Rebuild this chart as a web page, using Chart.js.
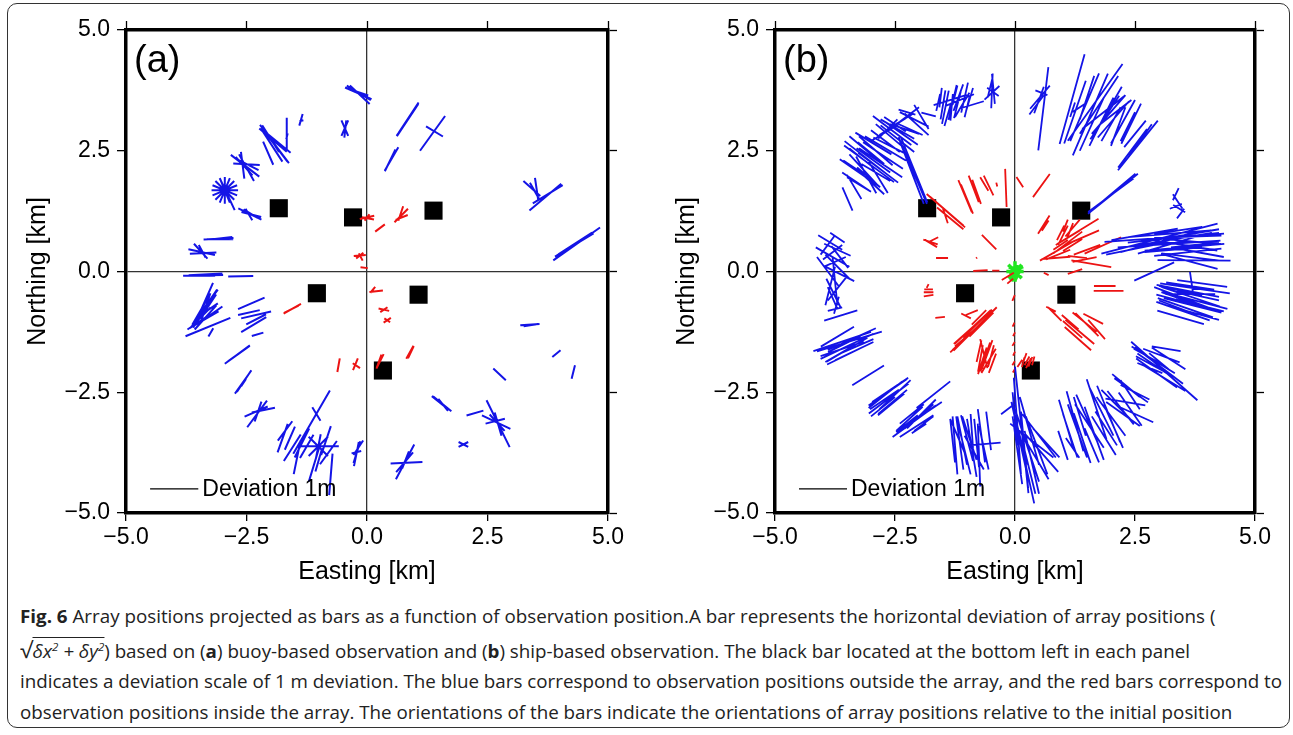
<!DOCTYPE html>
<html><head><meta charset="utf-8">
<script src="https://cdn.jsdelivr.net/npm/chart.js@4.4.1/dist/chart.umd.min.js"></script>
<style>
html,body{margin:0;padding:0;background:#fff;width:1293px;height:735px;overflow:hidden;}
#frame{position:absolute;left:7px;top:3px;width:1281px;height:723px;border:1.5px solid #333;border-radius:10px;}
.panel{position:absolute;top:0;width:640px;height:600px;}
#cap{position:absolute;left:20px;top:600px;font-family:'Open Sans';font-size:18px;color:#222;transform-origin:0 0;white-space:nowrap;}
.ln{position:absolute;left:0;white-space:nowrap;line-height:24px;}
.ov{border-top:1px solid #222;padding-top:1px;font-style:italic;}
sup{font-size:11px;line-height:0;vertical-align:7px;}
</style></head><body>
<div id="frame"></div>
<div class="panel" style="left:0"><canvas id="ca" width="640" height="600"></canvas></div>
<div class="panel" style="left:649px"><canvas id="cb" width="640" height="600"></canvas></div>
<div id="cap">
<div class="ln" style="top:4px"><b>Fig. 6</b> Array positions projected as bars as a function of observation position.A bar represents the horizontal deviation of array positions (</div>
<div class="ln" style="top:37px"><span style="font-size:22px">√</span><span class="ov">δx<sup>2</sup> + δy<sup>2</sup></span>) based on (<b>a</b>) buoy-based observation and (<b>b</b>) ship-based observation. The black bar located at the bottom left in each panel</div>
<div class="ln" id="l3" style="top:69px">indicates a deviation scale of 1 m deviation. The blue bars correspond to observation positions outside the array, and the red bars correspond to</div>
<div class="ln" style="top:100px">observation positions inside the array. The orientations of the bars indicate the orientations of array positions relative to the initial position</div>
</div>
<script>
// ---------- DATA ----------
const tickValues = [-5, -2.5, 0, 2.5, 5];
const tickLabels = ['\u22125.0', '\u22122.5', '0.0', '2.5', '5.0'];
// array (transponder) positions [km]
const squareEast  = [-1.83, -0.29, 1.38, -1.04, 1.07, 0.33];
const squareNorth = [ 1.31,  1.12, 1.26, -0.45, -0.48, -2.05];
// 1 m deviation is drawn as 1 km on the map
const kmPerMetre = 1.0;
const legendDeviation = 1; // m
// bars: [obsEast km, obsNorth km, devEast m, devNorth m]
const buoyOutside = [
 [-0.18,3.69,0.55,-0.24],[-0.15,3.66,0.41,-0.38],[-0.17,3.70,0.50,-0.30],[-0.20,3.72,0.45,-0.15],
 [-0.46,2.97,0.14,-0.32],[-0.46,2.97,-0.14,-0.32],[-0.45,2.95,0.04,0.36],
 [-1.37,3.14,0.07,0.24],[-1.36,3.12,0.08,0.02],
 [-1.67,2.86,0.01,0.65],[-1.66,2.80,0.03,0.12],
 [-1.92,2.64,0.60,-0.79],[-1.98,2.62,0.45,-0.69],[-1.88,2.70,0.59,-0.48],[-2.05,2.45,0.21,-0.48],[-1.95,2.72,0.57,-0.48],[-1.90,2.60,0.50,-0.65],[-2.00,2.75,0.35,-0.55],
 [-2.53,2.19,0.59,-0.45],[-2.50,2.15,0.31,-0.55],[-2.50,2.22,0.55,-0.03],[-2.55,2.18,0.35,-0.38],[-2.58,2.20,0.07,-0.55],[-2.45,2.20,0.40,-0.20],
 [-2.95,1.68,0.55,0],[-2.95,1.68,0.51,0.21],[-2.95,1.68,0.39,0.39],[-2.95,1.68,0.21,0.51],[-2.95,1.68,0,0.55],[-2.95,1.68,-0.21,0.51],[-2.95,1.68,-0.39,0.39],[-2.95,1.68,-0.51,0.21],[-2.90,1.60,0.31,-0.66],
 [-2.43,1.19,0.48,-0.23],[-2.40,1.18,0.41,-0.10],[-2.45,1.18,0.14,-0.24],[-2.42,1.20,0.28,-0.17],
 [-3.08,0.68,0.62,0.03],[-3.05,0.67,0.55,0.0],[-3.02,0.69,0.45,0.05],
 [-3.43,0.40,0.55,-0.12],[-3.40,0.38,0.55,0.03],[-3.45,0.42,0.28,-0.31],[-3.42,0.42,0.14,-0.26],
 [-3.40,-0.08,0.83,0.02],[-3.35,-0.06,0.70,0.04],[-3.45,-0.09,0.60,0.0],[-2.62,-0.10,0.52,0.01],
 [-3.30,-1.15,0.93,0.38],[-3.40,-0.70,0.41,0.93],[-3.30,-0.65,0.41,0.55],[-3.40,-0.85,0.41,0.55],[-3.30,-0.80,0.41,0.28],[-3.45,-0.95,0.41,0.41],[-3.30,-0.65,0.38,0.55],[-3.25,-0.90,0.50,0.35],[-3.50,-1.05,0.45,0.30],[-3.35,-0.75,0.20,0.60],[-3.24,-1.26,0.10,0.17],
 [-3.35,-0.95,0.45,0.50],[-3.28,-0.70,0.30,0.45],[-3.45,-0.80,0.35,0.60],[-3.38,-1.00,0.60,0.35],
 [-2.40,-0.66,0.55,0.24],[-2.30,-0.90,0.62,0.14],[-2.35,-1.10,0.52,0.31],[-2.30,-0.99,0.41,0.21],[-2.27,-1.30,0.24,0.07],[-2.45,-0.85,0.45,0.10],
 [-2.69,-1.72,0.52,0.38],[-2.66,-1.70,0.45,0.32],
 [-2.57,-2.29,0.34,0.48],[-2.55,-2.27,0.30,0.45],[-2.56,-2.30,0.10,0.15],
 [-2.28,-2.95,0.41,0.55],[-2.15,-2.87,0.48,0.10],[-2.26,-2.90,0.14,0.41],[-2.30,-2.90,0.48,0.21],
 [-1.75,-3.45,0.21,0.59],[-1.60,-3.45,0.21,0.48],[-1.45,-3.85,0.14,0.69],[-1.25,-3.62,0.28,0.48],[-1.10,-4.00,0.21,0.69],[-0.80,-3.75,0.35,0.48],[-0.75,-4.20,0.07,0.86],[-1.00,-3.90,0.14,0.48],[-1.00,-3.62,0.83,0.0],[-1.01,-3.62,0.40,0.40],[-1.01,-3.62,0.40,-0.40],[-1.01,-3.62,0.10,0.50],[-1.15,-3.12,0.76,1.31],[-1.05,-2.95,0.17,-0.28],[-1.55,-3.65,0.35,0.55],[-1.35,-3.55,0.30,0.60],[-0.85,-3.50,0.20,0.60],[-1.70,-3.30,0.30,0.40],
 [-0.21,-3.74,0.14,0.45],[-0.22,-3.78,0.10,0.50],[-0.18,-3.65,0.20,0.30],[-0.22,-3.74,0.20,0.05],
 [0.79,-3.94,0.38,0.72],[0.82,-3.96,0.66,0.03],[0.80,-3.90,0.14,0.35],[0.78,-3.95,0.35,0.41],
 [2.00,-3.58,0.20,0.10],[2.00,-3.58,0.20,-0.10],
 [2.72,-3.15,0.48,-0.97],[2.68,-3.12,0.59,-0.28],[2.70,-3.13,0.31,-0.34],[2.72,-3.16,0.14,-0.48],[2.66,-3.10,0.40,0.10],[2.24,-2.93,0.35,0.10],
 [1.56,-2.74,0.38,-0.31],[1.52,-2.72,0.35,-0.28],[1.58,-2.76,0.20,-0.25],
 [2.75,-2.13,0.26,-0.24],[3.93,-1.70,0.17,0.14],[4.28,-2.08,0.07,0.28],
 [3.38,-1.10,0.40,0.03],[3.40,-1.11,0.30,0.05],
 [3.70,1.54,0.66,0.55],[3.42,1.72,0.35,-0.31],[3.52,1.70,0.07,-0.48],[3.75,1.60,0.62,0.38],[3.48,1.66,0.20,-0.35],
 [4.35,0.57,0.97,0.68],[4.30,0.55,0.80,0.48],[4.32,0.58,0.70,0.45],
 [1.36,2.86,0.52,0.72],[1.40,2.90,0.35,-0.21],
 [0.84,3.14,0.45,0.66],[0.82,3.10,0.40,0.60],[0.86,3.18,0.42,0.64],
 [0.51,2.33,0.28,0.48],[0.48,2.30,0.22,0.45]
];
const buoyInside = [
 [0.00,1.12,0.30,0.07],[0.00,1.12,0.10,0.13],[0.02,1.10,0.25,-0.05],
 [0.27,0.90,0.20,0.15],
 [0.71,1.16,0.28,0.28],[0.70,1.20,0.10,0.30],[0.72,1.12,0.25,0.10],
 [-0.15,0.33,0.25,0.02],[-0.15,0.33,0.15,0.12],[-0.13,0.30,0.08,-0.15],
 [-0.06,0.08,0.15,-0.02],
 [0.19,-0.41,0.28,0.03],[0.12,-0.38,0.10,0.12],
 [0.35,-0.79,0.22,-0.05],[0.35,-0.79,0.15,0.10],
 [0.42,-1.01,0.15,0.10],[0.42,-1.01,0.12,-0.08],
 [-1.55,-0.77,0.36,0.20],[-1.57,-0.78,0.30,0.15],
 [-0.59,-1.94,0.05,0.28],
 [-0.24,-1.92,0.10,0.24],[-0.22,-1.95,0.15,-0.10],
 [0.27,-1.86,0.15,0.30],[0.25,-1.86,0.10,0.28],
 [0.89,-1.67,0.15,0.27],[0.91,-1.67,0.12,0.25]
];
const shipOutside = [
 [-1.45,3.40,0.14,0.69],[-1.30,3.50,0.17,0.72],[-1.20,3.45,0.14,0.55],[-1.05,3.60,0.14,0.62],[-1.15,3.55,0.59,0.24],[-1.35,3.55,0.69,0.21],[-1.00,3.40,0.10,0.41],[-1.40,3.25,0.14,0.48],[-1.25,3.65,0.10,0.40],[-1.10,3.45,0.30,0.50],[-1.55,3.60,0.05,0.40],
 [-1.50,3.45,0.10,0.60],[-1.18,3.60,0.20,0.55],[-0.95,3.55,0.15,0.50],[-1.32,3.40,0.05,0.55],[-1.60,3.50,0.08,0.35],[-0.90,3.45,0.50,0.15],
 [-0.48,3.74,0.03,0.72],[-0.48,3.70,0.31,0.28],[-0.46,3.72,0.24,-0.17],[-0.45,3.78,0.06,-0.62],[-0.52,3.80,0.10,0.40],
 [-3.04,2.23,1.04,-0.76],[-3.10,2.00,0.42,-0.76],[-3.05,1.95,0.48,-0.41],[-2.85,2.15,0.83,-0.62],[-2.75,2.40,0.83,-0.55],[-2.95,2.30,0.70,-0.50],[-3.15,2.10,0.60,-0.65],[-2.90,2.05,0.60,-0.35],[-3.20,2.35,0.50,-0.40],[-2.80,2.25,0.90,-0.60],[-3.00,2.45,0.55,-0.45],
 [-3.25,2.05,0.80,-0.55],[-3.10,2.35,0.90,-0.70],[-2.90,2.50,0.70,-0.60],[-2.70,2.55,0.85,-0.50],[-3.35,2.15,0.45,-0.30],[-3.00,1.85,0.55,-0.50],[-2.85,1.95,0.40,-0.65],[-2.60,2.60,0.70,-0.35],[-2.35,2.85,0.65,-0.45],[-2.20,2.95,0.55,-0.25],[-2.75,2.85,0.50,0.30],[-2.50,3.05,0.45,-0.30],[-3.15,2.55,0.60,-0.50],[-2.95,2.65,0.75,-0.45],
 [-3.30,1.85,0.60,-0.40],[-3.35,1.75,0.30,-0.50],[-3.25,1.80,0.50,-0.30],[-3.49,1.50,0.21,-0.48],
 [-2.56,2.92,0.80,-0.60],[-2.45,2.95,0.70,-0.40],[-2.60,2.80,0.60,-0.50],[-2.40,3.10,0.50,0.30],[-2.55,3.00,0.55,0.35],[-2.30,2.95,0.60,-0.20],[-2.65,2.95,0.40,0.40],[-2.45,2.75,0.70,-0.55],[-2.70,2.70,0.60,-0.45],
 [-2.10,3.15,0.60,-0.30],[-2.05,3.05,0.50,-0.45],[-2.20,3.25,0.40,0.30],[-1.95,3.20,0.30,-0.50],[-1.80,3.25,0.30,-0.08],[-2.25,3.30,0.35,-0.10],
 [-2.13,2.09,0.59,-1.38],[-2.10,2.10,0.55,-1.35],[-2.15,2.05,0.50,-1.30],
 [0.59,3.37,0.21,1.72],[0.52,3.61,0.41,0.48],[0.50,3.55,0.20,0.55],[0.55,3.70,0.25,-0.10],[0.45,3.45,0.30,0.40],
 [1.19,3.57,0.52,1.86],[1.57,3.25,0.73,1.69],[1.67,3.50,1.14,1.59],
 [1.87,3.19,0.60,0.90],[1.95,3.25,0.70,0.80],[1.80,3.10,0.50,1.00],[2.00,3.05,0.40,0.70],[2.10,3.30,0.65,0.50],[1.95,3.35,0.55,0.95],[2.15,3.00,0.30,0.80],[1.35,3.40,0.30,0.20],[1.20,3.35,0.10,0.30],
 [1.25,3.30,0.45,1.30],[1.45,3.40,0.60,1.40],[1.75,3.45,0.80,1.20],[1.60,3.05,0.50,1.10],[2.05,3.15,0.65,0.75],[2.25,3.10,0.50,0.90],[1.85,3.30,0.90,0.70],[1.50,3.60,0.30,0.90],
 [2.56,2.61,0.83,1.03],[2.45,2.55,0.60,0.80],[2.60,2.70,0.50,0.70],[2.42,3.06,0.41,0.83],[2.35,3.00,0.30,0.60],[2.50,2.85,0.45,0.55],
 [2.04,1.61,1.04,0.83],[2.00,1.58,0.95,0.70],[2.06,1.65,0.90,0.75],
 [3.39,1.45,0.20,-0.30],[3.35,1.60,0.12,0.25],[3.42,1.30,0.25,-0.15],[3.45,1.20,0.15,0.20],[3.35,1.35,0.25,0.10],
 [3.01,0.68,2.42,0.62],[3.11,0.70,2.49,0.17],[3.21,0.57,2.14,0.14],[2.90,0.00,0.83,0.38],[3.73,0.23,1.52,-0.01],[3.63,0.21,1.18,-0.31],[2.70,0.77,1.38,0.24],[3.22,0.78,1.73,0.14],[3.53,0.50,1.66,0.14],[3.56,0.54,1.31,-0.21],[3.15,0.54,1.18,0.34],[3.70,0.62,1.17,-0.10],[3.40,0.85,1.00,0.15],[3.60,0.72,1.40,0.05],[3.30,0.45,1.20,0.10],[2.40,0.45,1.00,0.20],[3.80,0.40,1.10,-0.20],
 [3.30,0.70,1.90,0.20],[3.45,0.60,1.60,0.05],[3.50,0.75,1.50,0.25],[3.60,0.40,1.40,0.15],[3.20,0.65,1.80,0.30],[3.65,0.30,1.20,-0.15],[2.95,0.60,1.50,0.40],[3.75,0.55,1.00,0.10],
 [3.75,-0.35,1.45,-0.21],[3.60,-0.65,1.31,-0.34],[3.50,-0.82,1.11,-0.38],[3.65,-0.52,1.24,-0.41],[3.45,-0.95,0.97,-0.28],[3.65,-0.47,1.04,0.00],[3.68,-0.25,0.07,-0.48],[3.90,-0.25,1.04,-0.14],[3.70,-0.70,1.20,-0.30],[3.55,-0.60,1.00,-0.35],[3.80,-0.50,0.90,-0.20],[3.40,-0.75,0.80,-0.30],
 [3.60,-0.40,1.30,-0.25],[3.75,-0.60,1.35,-0.35],[3.55,-0.75,1.15,-0.40],[3.70,-0.85,1.10,-0.30],[3.65,-0.30,1.00,-0.15],[3.50,-0.55,1.20,-0.45],[3.85,-0.70,1.00,-0.25],[3.45,-0.40,0.90,-0.20],
 [3.11,-2.06,1.38,-1.21],[2.88,-1.83,0.90,-0.55],[3.05,-1.74,0.76,-0.28],[2.90,-1.96,0.76,-0.41],[3.00,-1.86,0.41,-0.34],[2.81,-2.00,0.52,-0.21],[3.15,-1.60,0.60,-0.10],
 [3.00,-1.95,1.00,-0.75],[2.95,-2.10,0.85,-0.60],[3.20,-1.80,0.70,-0.45],[2.85,-1.90,0.60,-0.40],[3.10,-2.20,0.90,-0.55],[2.75,-1.75,0.55,-0.30],
 [2.42,-2.46,0.70,-0.50],[2.35,-2.40,0.50,-0.40],[2.50,-2.50,0.60,-0.30],[2.40,-2.55,0.40,-0.60],[2.30,-2.35,0.55,-0.45],
 [1.07,-3.17,0.31,-1.03],[1.25,-3.10,0.35,-1.24],[1.70,-2.85,0.41,-1.24],[1.95,-2.95,0.48,-1.17],[2.20,-2.82,0.55,-0.69],[2.40,-2.85,0.48,-0.69],[2.30,-2.70,0.83,-0.14],[1.40,-3.45,0.35,-1.03],[2.50,-2.95,0.76,-0.34],[1.20,-3.65,0.28,-0.41],[1.55,-3.20,0.60,-0.90],[1.85,-3.40,0.50,-0.80],[1.60,-3.60,0.30,-0.70],[2.05,-3.20,0.40,-0.90],[1.00,-3.60,0.20,-0.60],
 [1.30,-3.30,0.40,-1.10],[1.50,-3.05,0.45,-1.00],[1.80,-2.90,0.50,-1.00],[2.00,-3.00,0.60,-0.80],[1.15,-3.40,0.30,-0.90],[2.25,-2.95,0.70,-0.50],[1.65,-3.35,0.40,-1.10],[1.35,-3.00,0.25,-0.80],[2.10,-2.75,0.60,-0.60],[1.90,-3.25,0.45,-0.70],
 [0.14,-3.28,0.28,-2.62],[0.25,-3.60,0.50,-1.50],[0.10,-3.40,0.30,-1.20],[0.40,-3.80,0.60,-1.00],[0.20,-3.90,0.40,-1.80],[0.55,-3.75,0.70,-0.80],[0.05,-3.70,0.20,-1.40],[0.35,-3.50,0.90,-0.70],[0.30,-4.10,0.25,-1.00],[0.00,-3.05,0.10,-1.10],[-0.15,-2.85,0.28,0.21],
 [0.10,-3.50,0.35,-1.60],[0.30,-3.30,0.40,-1.40],[0.45,-3.60,0.45,-1.20],[0.20,-3.70,0.15,-1.60],[0.50,-3.40,0.70,-0.90],[0.05,-3.20,0.15,-2.00],[0.35,-3.95,0.30,-1.30],[0.65,-3.55,0.55,-0.60],
 [-1.25,-3.60,0.10,-1.20],[-1.10,-3.50,0.20,-1.00],[-0.75,-3.80,0.05,-1.30],[-0.95,-3.45,0.30,-0.90],[-0.85,-3.75,0.40,-0.70],[-0.60,-3.57,0.60,0.05],[-0.70,-3.40,0.15,-1.10],[-1.05,-3.70,0.25,-1.00],[-0.55,-3.30,0.10,-0.80],[-1.20,-3.40,0.30,-0.70],[-0.90,-3.65,0.20,-1.20],
 [-1.15,-3.55,0.15,-1.10],[-0.80,-3.55,0.10,-1.00],[-1.00,-3.45,0.25,-0.95],[-0.65,-3.65,0.20,-0.90],[-1.30,-3.50,0.10,-0.90],[-0.90,-3.30,0.05,-0.70],
 [-2.10,-3.10,0.90,0.65],[-2.00,-3.00,0.60,0.50],[-2.15,-2.95,0.50,0.40],[-2.05,-3.20,0.70,0.45],[-1.90,-3.15,0.40,0.30],[-2.20,-3.05,0.55,0.50],[-1.75,-2.85,0.45,0.30],
 [-2.05,-3.05,0.80,0.55],[-1.95,-2.95,0.60,0.60],[-2.25,-3.15,0.45,0.35],[-2.00,-3.25,0.30,0.20],[-1.70,-2.55,0.70,0.55],
 [-2.63,-2.63,0.83,0.62],[-2.70,-2.55,0.70,0.55],[-2.55,-2.70,0.60,0.50],[-2.60,-2.45,0.75,0.50],[-2.75,-2.80,0.50,0.40],[-2.50,-2.55,0.65,0.60],
 [-2.65,-2.50,0.80,0.55],[-2.58,-2.75,0.55,0.45],[-2.72,-2.65,0.60,0.40],
 [-3.06,-2.15,0.66,0.41],
 [-3.45,-1.45,1.35,0.41],[-3.50,-1.55,1.10,0.52],[-3.45,-1.70,0.93,0.45],[-3.55,-1.50,0.69,0.34],[-3.70,-1.35,0.69,0.41],[-3.35,-1.65,0.80,0.38],[-3.60,-1.60,0.90,0.30],
 [-3.40,-1.40,1.00,0.45],[-3.60,-1.45,1.20,0.40],[-3.50,-1.62,0.85,0.50],[-3.30,-1.55,0.70,0.30],[-3.65,-1.70,0.60,0.35],
 [-3.80,0.30,0.70,-0.40],[-3.70,0.10,0.50,-0.50],[-3.75,-0.20,0.10,-1.00],[-3.80,0.40,0.40,0.30],[-3.65,-0.05,0.60,-0.30],[-3.85,-0.30,0.20,0.80],[-3.70,0.45,0.55,-0.25],[-3.78,-0.45,0.30,-0.60],[-3.75,0.20,0.45,0.20],[-3.90,0.55,0.30,0.40],[-3.72,-0.70,0.10,0.35],
 [-3.90,0.00,0.45,-0.60],[-3.70,-0.35,0.40,0.50],[-3.85,0.60,0.50,-0.30],[-3.65,0.30,0.35,-0.45],[-3.80,-0.55,0.20,-0.45],[-3.70,0.70,0.30,-0.20],
 [-3.63,-0.91,0.69,0.21],[-3.75,-0.78,0.30,0.07]
];
const shipInside = [
 [-1.44,1.26,0.80,-0.69],[-1.42,1.25,0.70,-0.60],[-1.45,1.15,0.10,-0.30],[-1.35,1.10,0.55,-0.45],
 [-1.04,1.56,0.28,-0.66],[-1.00,1.50,0.25,-0.60],[-0.86,1.71,0.21,-0.55],[-0.80,1.65,0.18,-0.50],[-0.64,1.81,0.17,-0.28],[-0.55,1.78,0.20,-0.41],[-0.38,1.80,0.02,-0.08],[-0.19,1.73,0.03,-0.79],[0.10,1.85,0.14,-0.21],[0.55,1.78,0.35,0.48],
 [0.60,0.97,0.24,0.38],[0.63,0.95,0.14,0.21],
 [1.31,0.83,0.86,0.52],[1.10,0.70,0.50,0.30],[1.00,0.75,0.20,0.40],[1.20,0.90,0.30,0.35],[0.95,0.80,0.15,0.30],
 [1.10,0.60,0.60,0.45],[1.40,0.70,0.70,0.30],[1.20,0.55,0.40,0.25],[1.50,0.45,0.55,0.20],[0.95,0.55,0.30,0.20],[1.05,0.95,0.10,0.25],[1.15,0.85,0.12,0.30],
 [0.88,0.43,0.72,0.41],[0.90,0.35,0.50,0.20],[0.85,0.28,0.60,0.05],
 [1.83,0.54,0.76,0.34],[1.59,0.16,0.83,-0.14],[1.45,0.25,0.50,0.10],[1.30,0.30,0.40,-0.05],
 [0.65,-0.05,0.10,-0.05],[1.25,0.00,0.30,0.10],
 [1.87,-0.30,0.45,0.00],[1.95,-0.40,0.62,0.00],
 [0.83,-0.88,0.28,-0.28],[0.75,-0.78,0.20,-0.10],
 [1.31,-1.39,0.55,-0.48],[1.20,-1.20,0.40,-0.35],[1.35,-1.25,0.60,-0.50],[1.45,-1.05,0.50,-0.40],[1.15,-1.05,0.35,-0.30],
 [1.63,-0.98,0.41,-0.21],[1.50,-1.10,0.48,-0.48],[1.70,-1.20,0.35,-0.40],
 [-0.83,-1.19,0.90,0.90],[-0.90,-1.25,0.70,0.60],[-1.00,-1.35,0.60,0.55],[-0.70,-1.10,0.50,0.50],[-0.95,-1.30,0.80,0.75],
 [-0.88,-1.15,0.75,0.70],[-0.78,-1.08,0.60,0.58],[-1.05,-1.30,0.45,0.40],[-0.75,-0.95,0.30,0.30],
 [-0.62,-1.77,0.20,0.60],[-0.72,-1.80,0.10,0.55],[-0.55,-1.85,0.30,0.50],[-0.65,-1.70,0.15,-0.60],[-0.50,-1.75,0.12,0.45],
 [-0.68,-1.85,0.18,0.55],[-0.58,-1.72,0.22,0.60],[-0.75,-1.65,0.10,0.45],[-0.47,-1.90,0.15,0.40],
 [-0.03,-1.10,0.04,0.08],[-0.02,-1.30,0.04,0.08],[-0.03,-1.50,0.05,0.08],[-0.02,-1.70,0.04,0.08],[-0.03,-1.90,0.05,0.08],[-0.02,-2.05,0.05,0.08],[-0.03,-0.55,0.05,0.12],
 [0.17,-1.88,0.05,0.20],[0.25,-1.85,0.10,0.18],[0.32,-1.87,0.08,0.20],[0.10,-1.90,0.10,0.15],
 [0.20,-1.80,0.08,0.22],[0.28,-1.90,0.10,0.20],[0.38,-1.85,0.05,0.18],
 [-1.80,-0.43,0.20,0.00],[-1.80,-0.50,0.20,0.03],[-1.80,-0.37,0.18,0.00],[-1.82,-0.30,0.04,0.08],
 [-1.56,-0.95,0.20,0.02],
 [-1.76,0.61,0.30,-0.10],[-1.70,0.66,0.20,0.10],[-1.75,0.58,0.25,-0.15],
 [-1.52,0.28,0.25,0.00],[-0.54,0.61,0.30,-0.30],[-0.80,0.28,0.02,0.02],
 [-0.72,0.02,0.30,0.02],[-0.40,0.02,0.15,0.00],
 [-0.15,-0.10,0.25,0.15],[-0.10,-0.20,0.12,0.10],
 [-1.02,-0.92,0.20,-0.10],[-0.90,-0.85,0.25,0.10]
];
const shipCentre = [
 [0,0,0.36,0.0],[0,0,0.0,0.42],[0,0,0.28,0.28],[0,0,0.28,-0.28],[0.02,0.04,0.30,0.12],[-0.02,-0.03,0.12,0.34],[0.0,0.06,0.26,-0.06],[0.0,-0.06,0.18,0.26],[0.04,-0.10,0.10,0.20]
];

// ---------- RENDER ----------
const FONT = '"Liberation Sans", Arial, Helvetica, sans-serif';
function toSegments(rows){
  const pts = [];
  rows.forEach(([e,n,de,dn]) => {
    const hx = de*kmPerMetre/2, hy = dn*kmPerMetre/2;
    pts.push({x:e-hx, y:n-hy}, {x:e+hx, y:n+hy}, {x:e, y:null});
  });
  return pts;
}
const squares = squareEast.map((e,i)=>({x:e, y:squareNorth[i]}));

const overlay = {
  id:'overlay',
  afterDatasetsDraw(chart, args, opts){
    const {ctx, chartArea:a, scales:{x, y}} = chart;
    ctx.save();
    ctx.fillStyle = '#000';
    ctx.textBaseline = 'alphabetic';
    ctx.textAlign = 'left';
    ctx.font = '38px ' + FONT;
    ctx.fillText(opts.label, a.left + 8, a.top + 42);
    // scale bar: 1 m deviation
    const x0 = x.getPixelForValue(-4.5);
    const x1 = x.getPixelForValue(-4.5 + legendDeviation*kmPerMetre);
    const yy = y.getPixelForValue(-4.5);
    ctx.strokeStyle = '#000'; ctx.lineWidth = 1.3;
    ctx.beginPath(); ctx.moveTo(x0, yy); ctx.lineTo(x1, yy); ctx.stroke();
    ctx.font = '23px ' + FONT;
    ctx.textBaseline = 'middle';
    ctx.fillText('Deviation ' + legendDeviation + 'm', x1 + 4, yy + 1);
    ctx.restore();
  }
};

function axisCommon(){
  return {
    type:'linear', min:-5, max:5,
    afterBuildTicks: s => { s.ticks = tickValues.map(v=>({value:v})); },
  };
}
function makeChart(id, label, datasets, padRight){
  return new Chart(document.getElementById(id), {
    type:'scatter',
    data:{datasets},
    plugins:[overlay],
    options:{
      responsive:false, animation:false, devicePixelRatio:1,
      layout:{padding:{left:0, top:21, right:padRight, bottom:0}},
      plugins:{legend:{display:false}, tooltip:{enabled:false}, overlay:{label}},
      scales:{
        x:Object.assign(axisCommon(), {
          position:'bottom',
          ticks:{callback:(v,i)=>tickLabels[i], font:{family:FONT,size:23}, color:'#000', padding:3, maxRotation:0, autoSkip:false},
          grid:{color:c=>(c.tick && c.tick.value===0)?'#333':'rgba(0,0,0,0)', lineWidth:1.3, tickColor:'#000', tickLength:8, tickWidth:1.3},
          border:{display:true, color:'#000', width:3.5},
          title:{display:true, text:'Easting [km]', font:{family:FONT,size:25}, color:'#000', padding:{top:0,bottom:13}},
          afterFit:s=>{s.height=87;}
        }),
        y:Object.assign(axisCommon(), {
          position:'left',
          ticks:{callback:(v,i)=>tickLabels[i], font:{family:FONT,size:23}, color:'#000', padding:7, autoSkip:false},
          grid:{color:c=>(c.tick && c.tick.value===0)?'#333':'rgba(0,0,0,0)', lineWidth:1.3, tickColor:'#000', tickLength:9, tickWidth:1.3},
          border:{display:true, color:'#000', width:3.5},
          title:{display:true, text:'Northing [km]', font:{family:FONT,size:25}, color:'#000', padding:{top:23.5,bottom:0}},
          afterFit:s=>{s.width=126;}
        }),
        x2:Object.assign(axisCommon(), {
          position:'top', ticks:{display:false},
          grid:{drawOnChartArea:false, tickColor:'#000', tickLength:9, tickWidth:1.3},
          border:{display:true, color:'#000', width:3.5},
          afterFit:s=>{s.height=9;}
        }),
        y2:Object.assign(axisCommon(), {
          position:'right', ticks:{display:false},
          grid:{drawOnChartArea:false, tickColor:'#000', tickLength:9, tickWidth:1.3},
          border:{display:true, color:'#000', width:3.5},
          afterFit:s=>{s.width=9;}
        })
      }
    }
  });
}
function barSet(rows, color, width){
  return {type:'line', data:toSegments(rows), borderColor:color, backgroundColor:color, borderWidth:width,
          pointRadius:0, spanGaps:false, fill:false, tension:0, xAxisID:'x', yAxisID:'y'};
}
function squareSet(){
  return {type:'scatter', data:squares, pointStyle:'rect', pointRadius:12.8, backgroundColor:'#000',
          borderColor:'#000', borderWidth:0, xAxisID:'x', yAxisID:'y'};
}
const BLUE = '#1414e6', RED = '#ec1313', GREEN = '#22e622';
makeChart('ca', '(a)', [barSet(buoyOutside, BLUE, 2), barSet(buoyInside, RED, 2), squareSet()], 23);
makeChart('cb', '(b)', [barSet(shipOutside, BLUE, 1.8), barSet(shipInside, RED, 1.8), barSet(shipCentre, GREEN, 3.5), squareSet()], 25);

// caption width fit
function fitCaption(){
  const cap = document.getElementById('cap');
  cap.style.transform = 'none';
  const w = document.getElementById('l3').getBoundingClientRect().width;
  cap.style.transform = 'scaleX(' + (1262 / w) + ')';
}
fitCaption();
if (document.fonts && document.fonts.ready) document.fonts.ready.then(fitCaption);
</script>
</body></html>
